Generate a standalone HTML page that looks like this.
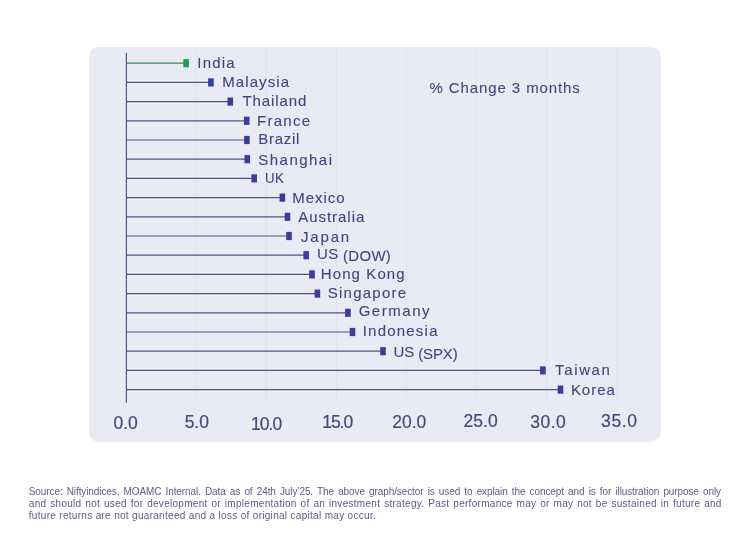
<!DOCTYPE html>
<html><head><meta charset="utf-8"><style>
*{margin:0;padding:0;box-sizing:border-box}
html,body{width:750px;height:535px;background:#fff;overflow:hidden;position:relative;font-family:"Liberation Sans",sans-serif}
.wrap{position:absolute;left:0;top:0;width:750px;height:535px;will-change:transform}
.panel{position:absolute;left:89px;top:47px;width:572px;height:395px;border-radius:10px;background:#eaeaf5}
.ch{position:absolute;left:0;top:0}
.l{position:absolute;font-size:15.0px;line-height:15.0px;color:#43457e;white-space:nowrap;-webkit-text-stroke:0.12px #43457e}
.t{position:absolute;width:100px;text-align:center;font-size:17.5px;line-height:17.5px;color:#46487c;white-space:nowrap;-webkit-text-stroke:0.2px #46487c}
.title{position:absolute;left:429.5px;top:79.90px;font-size:15.0px;line-height:15.0px;color:#46487e;letter-spacing:0.9px;white-space:nowrap;-webkit-text-stroke:0.12px #46487e}
.fn{position:absolute;left:28.8px;width:692.4000000000001px;font-size:10px;line-height:12.25px;color:#5a5c88}
.fn div{white-space:nowrap;height:12.25px}
</style></head><body>
<div class="wrap">
<div class="panel"></div>
<svg class="ch" width="750" height="535" viewBox="0 0 750 535"><line x1="196.20" y1="47.5" x2="196.20" y2="403" stroke="#e2e2ee" stroke-width="1"/><line x1="266.30" y1="47.5" x2="266.30" y2="403" stroke="#e2e2ee" stroke-width="1"/><line x1="336.40" y1="47.5" x2="336.40" y2="403" stroke="#e2e2ee" stroke-width="1"/><line x1="406.50" y1="47.5" x2="406.50" y2="403" stroke="#e2e2ee" stroke-width="1"/><line x1="476.60" y1="47.5" x2="476.60" y2="403" stroke="#e2e2ee" stroke-width="1"/><line x1="546.70" y1="47.5" x2="546.70" y2="403" stroke="#e2e2ee" stroke-width="1"/><line x1="616.80" y1="47.5" x2="616.80" y2="403" stroke="#e2e2ee" stroke-width="1"/><line x1="126.4" y1="53" x2="126.4" y2="402.8" stroke="#4e5080" stroke-width="1.15"/><line x1="126.2" y1="63.20" x2="186.10" y2="63.20" stroke="#3b855a" stroke-width="1.2"/><rect x="183.30" y="59.10" width="5.6" height="8.2" fill="#1f9f55"/><line x1="126.2" y1="82.40" x2="210.90" y2="82.40" stroke="#50527f" stroke-width="1.2"/><rect x="208.10" y="78.30" width="5.6" height="8.2" fill="#3a3d9c"/><line x1="126.2" y1="101.60" x2="230.30" y2="101.60" stroke="#50527f" stroke-width="1.2"/><rect x="227.50" y="97.50" width="5.6" height="8.2" fill="#3a3d9c"/><line x1="126.2" y1="120.80" x2="246.70" y2="120.80" stroke="#50527f" stroke-width="1.2"/><rect x="243.90" y="116.70" width="5.6" height="8.2" fill="#3a3d9c"/><line x1="126.2" y1="140.00" x2="246.90" y2="140.00" stroke="#50527f" stroke-width="1.2"/><rect x="244.10" y="135.90" width="5.6" height="8.2" fill="#3a3d9c"/><line x1="126.2" y1="159.20" x2="247.30" y2="159.20" stroke="#50527f" stroke-width="1.2"/><rect x="244.50" y="155.10" width="5.6" height="8.2" fill="#3a3d9c"/><line x1="126.2" y1="178.40" x2="254.20" y2="178.40" stroke="#50527f" stroke-width="1.2"/><rect x="251.40" y="174.30" width="5.6" height="8.2" fill="#3a3d9c"/><line x1="126.2" y1="197.60" x2="282.40" y2="197.60" stroke="#50527f" stroke-width="1.2"/><rect x="279.60" y="193.50" width="5.6" height="8.2" fill="#3a3d9c"/><line x1="126.2" y1="216.80" x2="287.50" y2="216.80" stroke="#50527f" stroke-width="1.2"/><rect x="284.70" y="212.70" width="5.6" height="8.2" fill="#3a3d9c"/><line x1="126.2" y1="236.00" x2="289.00" y2="236.00" stroke="#50527f" stroke-width="1.2"/><rect x="286.20" y="231.90" width="5.6" height="8.2" fill="#3a3d9c"/><line x1="126.2" y1="255.20" x2="306.20" y2="255.20" stroke="#50527f" stroke-width="1.2"/><rect x="303.40" y="251.10" width="5.6" height="8.2" fill="#3a3d9c"/><line x1="126.2" y1="274.40" x2="312.00" y2="274.40" stroke="#50527f" stroke-width="1.2"/><rect x="309.20" y="270.30" width="5.6" height="8.2" fill="#3a3d9c"/><line x1="126.2" y1="293.60" x2="317.40" y2="293.60" stroke="#50527f" stroke-width="1.2"/><rect x="314.60" y="289.50" width="5.6" height="8.2" fill="#3a3d9c"/><line x1="126.2" y1="312.80" x2="347.90" y2="312.80" stroke="#50527f" stroke-width="1.2"/><rect x="345.10" y="308.70" width="5.6" height="8.2" fill="#3a3d9c"/><line x1="126.2" y1="332.00" x2="352.50" y2="332.00" stroke="#50527f" stroke-width="1.2"/><rect x="349.70" y="327.90" width="5.6" height="8.2" fill="#3a3d9c"/><line x1="126.2" y1="351.20" x2="383.00" y2="351.20" stroke="#50527f" stroke-width="1.2"/><rect x="380.20" y="347.10" width="5.6" height="8.2" fill="#3a3d9c"/><line x1="126.2" y1="370.40" x2="542.90" y2="370.40" stroke="#50527f" stroke-width="1.2"/><rect x="540.10" y="366.30" width="5.6" height="8.2" fill="#3a3d9c"/><line x1="126.2" y1="389.60" x2="560.50" y2="389.60" stroke="#50527f" stroke-width="1.2"/><rect x="557.70" y="385.50" width="5.6" height="8.2" fill="#3a3d9c"/></svg><div class="l" style="left:197.32px;top:55.16px;letter-spacing:1.170px">India</div><div class="l" style="left:222.32px;top:73.86px;letter-spacing:1.067px">Malaysia</div><div class="l" style="left:242.39px;top:92.96px;letter-spacing:0.926px">Thailand</div><div class="l" style="left:257.10px;top:112.96px;letter-spacing:1.260px">France</div><div class="l" style="left:258.32px;top:131.06px;letter-spacing:0.702px">Brazil</div><div class="l" style="left:258.32px;top:151.96px;letter-spacing:1.466px">Shanghai</div><div class="l" style="left:264.54px;top:170.46px;letter-spacing:0.400px;transform:scaleX(0.8822);transform-origin:0 0">UK</div><div class="l" style="left:292.32px;top:189.66px;letter-spacing:0.954px">Mexico</div><div class="l" style="left:298.22px;top:209.16px;letter-spacing:0.967px">Australia</div><div class="l" style="left:301.00px;top:228.66px;letter-spacing:1.822px">Japan</div><div class="l" style="left:317.10px;top:245.66px;letter-spacing:0.296px">US <span style="position:relative;top:2.3px">(DOW)</span></div><div class="l" style="left:320.76px;top:265.56px;letter-spacing:1.103px">Hong Kong</div><div class="l" style="left:327.76px;top:285.26px;letter-spacing:1.249px">Singapore</div><div class="l" style="left:358.66px;top:303.26px;letter-spacing:1.530px">Germany</div><div class="l" style="left:362.71px;top:322.96px;letter-spacing:1.215px">Indonesia</div><div class="l" style="left:393.54px;top:343.96px;letter-spacing:-0.116px">US <span style="position:relative;top:2.3px">(SPX)</span></div><div class="l" style="left:555.05px;top:362.46px;letter-spacing:1.638px">Taiwan</div><div class="l" style="left:570.88px;top:381.96px;letter-spacing:0.990px">Korea</div><div class="t" style="left:75.70px;top:414.95px;letter-spacing:0px;text-indent:0px">0.0</div><div class="t" style="left:146.80px;top:414.05px;letter-spacing:0px;text-indent:0px">5.0</div><div class="t" style="left:216.60px;top:415.75px;letter-spacing:-0.9px;text-indent:-0.9px">10.0</div><div class="t" style="left:287.70px;top:414.45px;letter-spacing:-1.0px;text-indent:-1.0px">15.0</div><div class="t" style="left:359.30px;top:414.45px;letter-spacing:0px;text-indent:0px">20.0</div><div class="t" style="left:430.60px;top:413.05px;letter-spacing:0px;text-indent:0px">25.0</div><div class="t" style="left:498.00px;top:414.45px;letter-spacing:0.45px;text-indent:0.45px">30.0</div><div class="t" style="left:569.00px;top:413.35px;letter-spacing:0.6px;text-indent:0.6px">35.0</div>
<div class="title">% Change 3 months</div>
<div class="fn" style="top:485.7px">
<div style="letter-spacing:-0.1px;word-spacing:1.5px">Source: Niftyindices, MOAMC Internal. Data as of 24th July’25. The above graph/sector is used to explain the concept and is for illustration purpose only</div>
<div style="letter-spacing:0.29px;word-spacing:0.8181818181818182px">and should not used for development or implementation of an investment strategy. Past performance may or may not be sustained in future and</div>
<div style="letter-spacing:0.29px;word-spacing:0.11666666666666665px">future returns are not guaranteed and a loss of original capital may occur.</div>
</div>
</div>
</body></html>
